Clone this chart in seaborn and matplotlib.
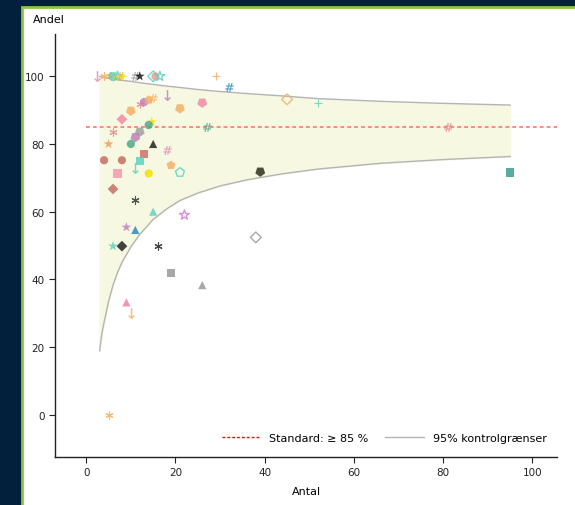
import numpy as np
import pandas as pd
import matplotlib
matplotlib.use("Agg")
import matplotlib.pyplot as plt
import seaborn as sns
from matplotlib.lines import Line2D
from matplotlib.patches import Rectangle

# funnel limits (n -> percent)
limit_n = [3, 3.5, 4, 5, 6, 7, 8, 10, 12, 15, 18, 21, 25, 30, 36, 44, 52, 66, 80, 95]
lower_limit = [18.9, 24.0, 27.3, 33.5, 38.3, 42.0, 45.0, 49.6, 53.3, 57.7, 60.8, 63.3,
               65.5, 67.6, 69.4, 71.2, 72.6, 74.3, 75.4, 76.3]
upper_limit = [100.0, 99.8, 99.6, 99.4, 99.2, 99.0, 98.8, 98.5, 98.1, 97.6, 97.1, 96.7,
               96.1, 95.5, 94.9, 94.2, 93.4, 92.6, 92.0, 91.5]
standard = 85

# units
antal = [2.5, 4, 5, 5.5, 6, 6.5, 7, 7.5, 8, 11, 12, 15, 15.5, 16.5,
         29, 32, 18, 26, 21, 45, 52, 81, 27, 10, 8,
         12, 13, 14, 15, 14.7, 14, 6, 12, 11, 5, 10, 15, 13, 18,
         4, 8, 12, 7, 11, 14, 19, 21, 6, 11, 15, 22, 9, 11, 6, 8, 16,
         19, 26, 9, 10, 5, 38, 39, 95]
andel = [100, 100, 100, 100, 100, 100, 100, 100, 100, 100, 100, 100, 100, 100,
         100, 96.7, 94.4, 92.2, 90.5, 93.2, 92.2, 85, 85, 89.8, 87.3,
         91.7, 92.4, 93, 93.5, 86.5, 85.6, 83.4, 83.6, 82, 80, 80, 80, 77, 78.2,
         75.2, 75.2, 75, 71.3, 72.8, 71.3, 73.7, 71.6, 66.7, 63.5, 60, 59, 55.4, 54.6, 49.8, 49.8, 49.8,
         41.9, 38.3, 33.2, 30, 0, 52.4, 71.8, 71.6]
markers = ["$\\downarrow$", "asterisk", "+", "asterisk", "shield", "*", "*", "hash", "+", "hash", "*", "D", "o", "*",
           "+", "hash", "$\\downarrow$", "shield", "shield", "D", "+", "hash", "hash", "shield", "D",
           "asterisk", "o", "p", "hash", "*", "o", "asterisk", "shield", "shield", "*", "o", "^", "s", "hash",
           "o", "o", "s", "s", "$\\downarrow$", "o", "p", "p", "D", "asterisk", "^", "*", "*", "^", "*", "D", "asterisk",
           "s", "^", "^", "$\\downarrow$", "asterisk", "D", "shield", "s"]
filled = [1, 1, 1, 1, 1, 1, 0, 1, 1, 1, 1, 0, 1, 0,
          1, 1, 1, 1, 1, 0, 1, 1, 1, 1, 1,
          1, 1, 1, 1, 1, 1, 1, 1, 1, 1, 1, 1, 1, 1,
          1, 1, 1, 1, 1, 1, 1, 0, 1, 1, 1, 0, 1, 1, 1, 1, 1,
          1, 1, 1, 1, 1, 0, 1, 1]
colors = ["#f08aa6", "#f4b064", "#f5e000", "#f08aa6", "#5ed3c3", "#f5e000", "#5ed3c3", "#f4b064", "#f5e000",
          "#999999", "#111111", "#5ed3c3", "#e8a098", "#5ed3c3",
          "#f4b064", "#2a8bbf", "#c080c0", "#f08aa6", "#f4b064", "#f4b064", "#5ed3c3", "#e58a8a", "#4fa88a",
          "#f4b064", "#f08aa6",
          "#e58a9a", "#c080c0", "#f4b064", "#f4b064", "#f5e000", "#4fa88a", "#e58a8a", "#a0a0a0", "#c080c0",
          "#e8a060", "#4fa88a", "#222222", "#d46e6a", "#e58ab0",
          "#c86d63", "#c86d63", "#5ed3c3", "#f49ab0", "#5ed3c3", "#f5e000", "#f4b064", "#5ed3c3",
          "#c86d63", "#2e3b2e", "#5ed3c3", "#d080d8", "#c080c0", "#2a8bbf", "#5ed3c3", "#222222", "#222222",
          "#999999", "#999999", "#f080b0", "#f4b064", "#f4b064", "#999999", "#2e2e1e", "#3a9e8e"]

df = pd.DataFrame({"antal": antal, "andel": andel, "marker": markers,
                   "filled": filled, "color": colors})

marker_map = {
    "asterisk": (6, 2, 0),
    "hash": "$\\#$",
    "shield": (5, 0, 180),
}
size_map = {"D": 30, "shield": 55, "p": 45, "*": 55, "$\\downarrow$": 60, "hash": 40, "asterisk": 28}

fig = plt.figure(figsize=(5.75, 5.06), dpi=100, facecolor="#02203b")
panel = Rectangle((22 / 575, -0.05), 1.2, 1 - 8 / 506 + 0.05, transform=fig.transFigure,
                  facecolor="white", edgecolor="#8cc63f", linewidth=2, zorder=-1)
fig.patches.append(panel)

ax = fig.add_axes([55 / 575, 1 - 458 / 506, (557 - 55) / 575, (458 - 35) / 506])
ax.set_facecolor("none")

# funnel
ax.fill_between(limit_n, lower_limit, upper_limit, color="#f6f8e2", zorder=1)
sns.lineplot(x=limit_n, y=lower_limit, color="#b4b4b4", linewidth=1.0, ax=ax, zorder=2)
sns.lineplot(x=limit_n, y=upper_limit, color="#b4b4b4", linewidth=1.0, ax=ax, zorder=2)
ax.hlines(standard, 0, 105.5, colors="#ff6a6a", linestyles=(0, (2.5, 2)), linewidth=1.1, zorder=2)

for _, row in df.iterrows():
    m = marker_map.get(row["marker"], row["marker"])
    size = size_map.get(row["marker"], 35)
    c = row["color"]
    if row["marker"] in ("asterisk", "+"):
        sns.scatterplot(x=[row["antal"]], y=[row["andel"]], marker=m, color=c,
                        s=size, linewidth=0.8, alpha=0.85, ax=ax, zorder=3)
    elif row["marker"] in ("hash", "$\\downarrow$"):
        sns.scatterplot(x=[row["antal"]], y=[row["andel"]], marker=m, facecolor=c, edgecolor=c,
                        s=size, linewidth=0.1, alpha=0.85, ax=ax, zorder=3)
    elif row["filled"]:
        sns.scatterplot(x=[row["antal"]], y=[row["andel"]], marker=m, color=c,
                        edgecolor="none", s=size, alpha=0.85, ax=ax, zorder=3)
    else:
        sns.scatterplot(x=[row["antal"]], y=[row["andel"]], marker=m, facecolor="none",
                        edgecolor=c, s=size, linewidth=1, alpha=0.85, ax=ax, zorder=3)

ax.set_xlim(-7, 105.5)
ax.set_ylim(-12.5, 112.5)
ax.set_xticks([0, 20, 40, 60, 80, 100])
ax.set_yticks([0, 20, 40, 60, 80, 100])
ax.tick_params(labelsize=7.5, length=4, color="#222222", labelcolor="#222222")
for side in ["top", "right"]:
    ax.spines[side].set_visible(False)
for side in ["left", "bottom"]:
    ax.spines[side].set_color("#222222")
    ax.spines[side].set_linewidth(1)
ax.set_xlabel("Antal", fontsize=8, labelpad=6)
ax.set_ylabel("")
fig.text(33 / 575, 1 - 20 / 506, "Andel", fontsize=8, va="center", ha="left")

handles = [Line2D([], [], color="red", linestyle=(0, (2, 1.5)), linewidth=1),
           Line2D([], [], color="#b4b4b4", linewidth=1)]
ax.legend(handles, ["Standard: \u2265 85 %", "95% kontrolgr\u00e6nser"], ncol=2, frameon=False,
          fontsize=8, loc="lower right", bbox_to_anchor=(1.0, 0.01), handlelength=3.5,
          columnspacing=1.5)

fig.savefig("out.png", dpi=100, facecolor=fig.get_facecolor())
